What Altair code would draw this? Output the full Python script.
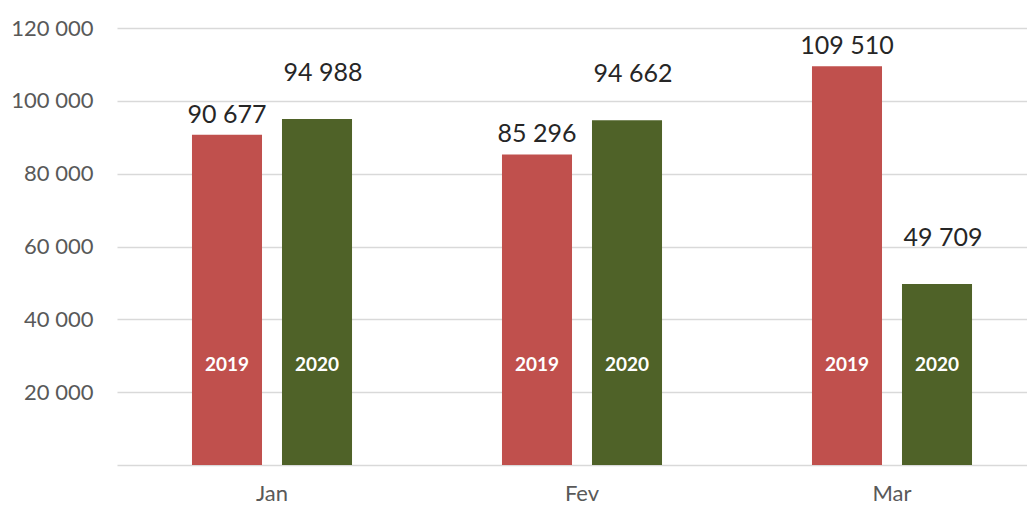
import altair as alt
import pandas as pd

months = ["Jan", "Fev", "Mar"]
values_2019 = [90677, 85296, 109510]
values_2020 = [94988, 94662, 49709]
years = ["2019", "2020"]
colors = ["#C0504D", "#4F6228"]

rows = []
for i, m in enumerate(months):
    rows.append({"month": m, "year": "2019", "value": values_2019[i]})
    rows.append({"month": m, "year": "2020", "value": values_2020[i]})
df = pd.DataFrame(rows)

FONT = "Lato"

x_enc = alt.X(
    "month:N",
    sort=months,
    scale=alt.Scale(range=[0, 930], paddingInner=0, paddingOuter=0),
    axis=alt.Axis(
        title=None, domain=False, ticks=False, labelAngle=0,
        labelFont=FONT, labelFontSize=22, labelColor="#595959", labelPadding=18,
        grid=False,
    ),
)
xoff = alt.XOffset("year:N", sort=years,
                   scale=alt.Scale(paddingInner=0.222, paddingOuter=0.833))
y_scale = alt.Scale(domain=[0, 120000], nice=False)

base = alt.Chart(df)

bars = base.mark_bar().encode(
    x=x_enc,
    xOffset=xoff,
    y=alt.Y(
        "value:Q",
        scale=y_scale,
        axis=alt.Axis(
            title=None, domain=False, ticks=False,
            values=[0, 20000, 40000, 60000, 80000, 100000, 120000],
            labelExpr="datum.value == 0 ? '' : replace(format(datum.value, ','), ',', ' ')",
            labelFont=FONT, labelFontSize=22, labelColor="#595959", labelPadding=24,
            gridColor="#D9D9D9", gridWidth=1.5,
        ),
    ),
    color=alt.Color("year:N", sort=years,
                    scale=alt.Scale(domain=years, range=colors), legend=None),
)

def value_labels(year, dy, dx):
    return base.transform_filter(alt.datum.year == year).transform_calculate(
        lbl="replace(format(datum.value, ','), ',', ' ')"
    ).mark_text(
        font=FONT, fontSize=25, color="#262626", baseline="alphabetic", dy=dy, dx=dx
    ).encode(
        x=alt.X("month:N", sort=months),
        xOffset=xoff,
        y=alt.Y("value:Q", scale=y_scale),
        text="lbl:N",
    )

labels_2019 = value_labels("2019", -12, 0)
labels_2020 = value_labels("2020", -38, 6)

inner = base.mark_text(
    font=FONT, fontSize=19, fontWeight="bold", color="white", baseline="middle"
).encode(
    x=alt.X("month:N", sort=months),
    xOffset=xoff,
    y=alt.datum(27500),
    text="year:N",
)

chart = alt.layer(bars, labels_2019, labels_2020, inner).properties(
    width=910,
    height=437,
    autosize=alt.AutoSizeParams(type="none"),
    padding={"left": 109, "top": 20, "right": 0, "bottom": 40},
).configure_view(stroke=None)

chart.save("out.html", embed_options={"renderer": "svg", "actions": False})
